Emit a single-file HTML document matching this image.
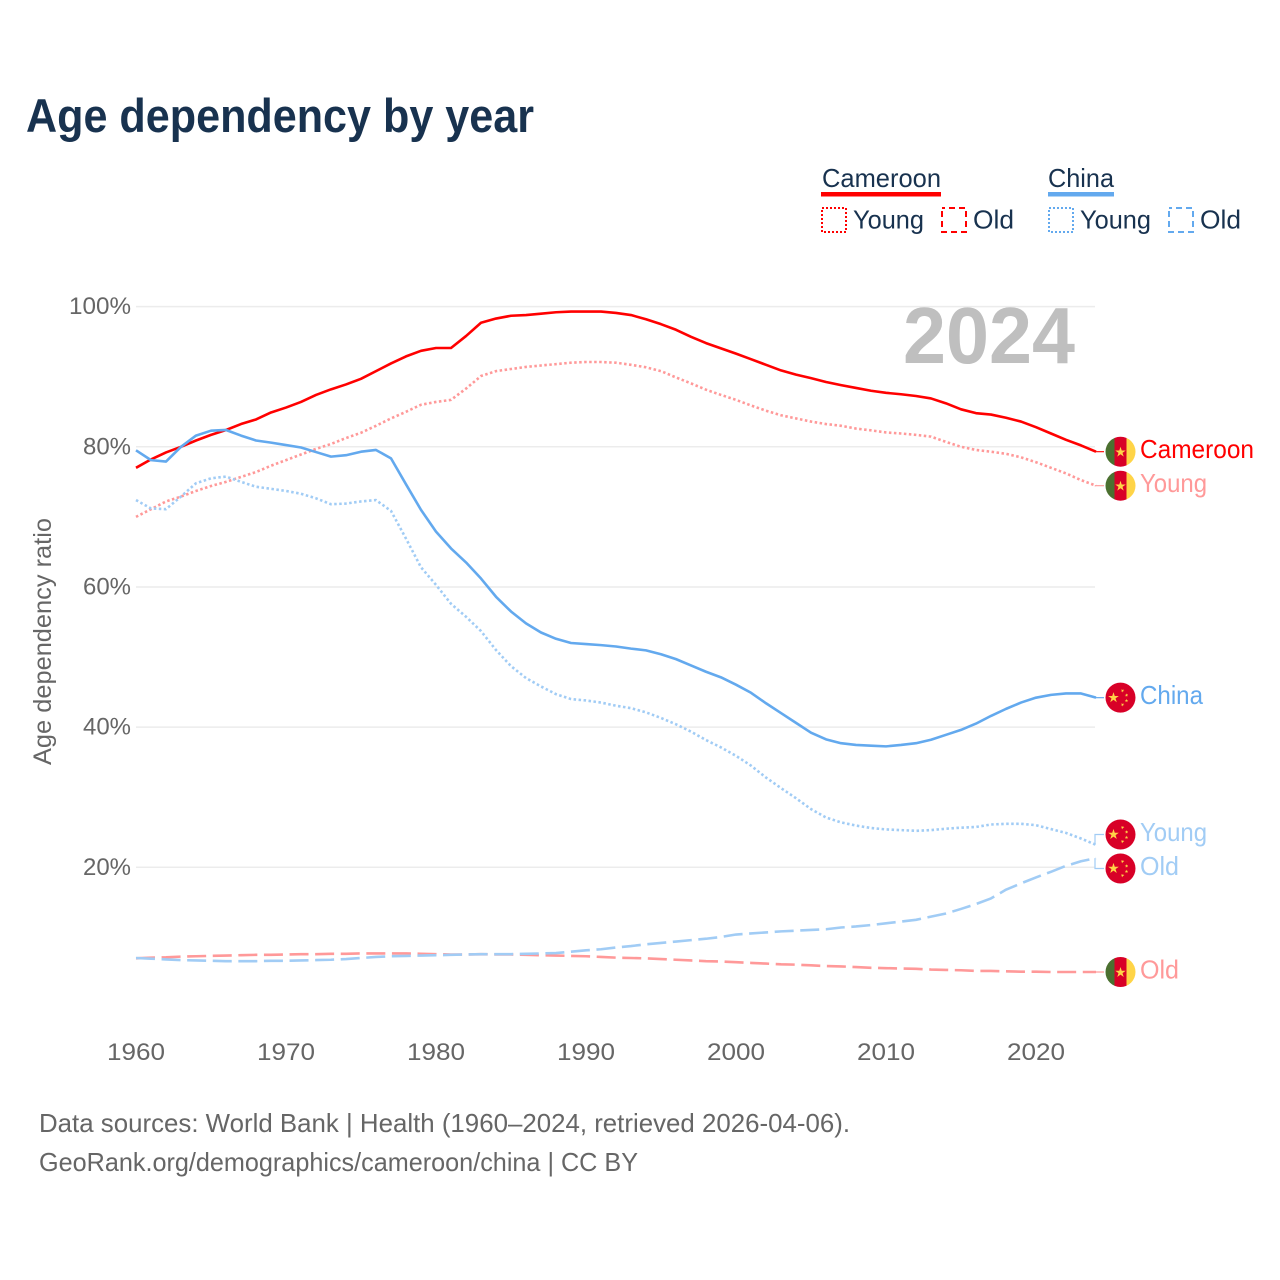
<!DOCTYPE html>
<html lang="en">
<head>
<meta charset="utf-8">
<title>Age dependency by year</title>
<style>
html,body{margin:0;padding:0;background:#fff;}
svg{display:block;}
text{font-family:"Liberation Sans",sans-serif;}
</style>
</head>
<body>
<svg id="chart" width="1280" height="1280" viewBox="0 0 1280 1280" xmlns="http://www.w3.org/2000/svg">
  <rect x="0" y="0" width="1280" height="1280" fill="#ffffff"/>
  <text x="26" y="132" font-size="47" font-weight="700" fill="#18324f" textLength="508" lengthAdjust="spacingAndGlyphs">Age dependency by year</text>

  <g>
    <g>
      <text x="822" y="187" font-size="26" fill="#18324f" textLength="119" lengthAdjust="spacingAndGlyphs">Cameroon</text>
      <rect x="821" y="192" width="120" height="4.5" fill="#ff0000"/>
      <rect x="822" y="208" width="24" height="24" fill="none" stroke="#ff0000" stroke-width="2" stroke-dasharray="2 2"/>
      <text x="853" y="228.5" font-size="26" fill="#18324f" textLength="71" lengthAdjust="spacingAndGlyphs">Young</text>
      <rect x="942" y="208" width="24" height="24" fill="none" stroke="#ff0000" stroke-width="2" stroke-dasharray="6 4" stroke-dashoffset="3"/>
      <text x="973" y="228.5" font-size="26" fill="#18324f" textLength="41" lengthAdjust="spacingAndGlyphs">Old</text>
    </g>
    <g>
      <text x="1048" y="187" font-size="26" fill="#18324f" textLength="66" lengthAdjust="spacingAndGlyphs">China</text>
      <rect x="1048" y="192" width="66" height="4.5" fill="#63a9ee"/>
      <rect x="1049" y="208" width="24" height="24" fill="none" stroke="#63a9ee" stroke-width="2" stroke-dasharray="2 2"/>
      <text x="1080" y="228.5" font-size="26" fill="#18324f" textLength="71" lengthAdjust="spacingAndGlyphs">Young</text>
      <rect x="1169" y="208" width="24" height="24" fill="none" stroke="#63a9ee" stroke-width="2" stroke-dasharray="6 4" stroke-dashoffset="3"/>
      <text x="1200" y="228.5" font-size="26" fill="#18324f" textLength="41" lengthAdjust="spacingAndGlyphs">Old</text>
    </g>
  </g>

  <g id="grid"></g>
  <text x="903" y="363" font-size="80" font-weight="700" fill="#bfbfbf" textLength="172" lengthAdjust="spacingAndGlyphs">2024</text>
  <g id="yticks"></g>
  <g id="xticks"></g>
  <text transform="translate(51,765) rotate(-90)" x="0" y="0" font-size="25" fill="#666666" textLength="247" lengthAdjust="spacingAndGlyphs">Age dependency ratio</text>
  <g id="series"></g>
  <g id="endlabels"></g>

  <g>
    <text x="39" y="1132" font-size="26" fill="#666666" textLength="811" lengthAdjust="spacingAndGlyphs">Data sources: World Bank | Health (1960–2024, retrieved 2026-04-06).</text>
    <text x="39" y="1171" font-size="26" fill="#666666" textLength="599" lengthAdjust="spacingAndGlyphs">GeoRank.org/demographics/cameroon/china | CC BY</text>
  </g>
</svg>
<script>
const firstYear = 1960;
const xTickYears = [1960, 1970, 1980, 1990, 2000, 2010, 2020];
const yTickValues = [20, 40, 60, 80, 100];

const cameroonTotal = [77.0,78.2,79.2,80.0,80.9,81.7,82.4,83.25,83.9,84.9,85.6,86.4,87.4,88.2,88.9,89.7,90.8,91.9,92.9,93.7,94.1,94.1,95.8,97.7,98.3,98.7,98.8,99.0,99.2,99.3,99.3,99.3,99.1,98.8,98.2,97.5,96.7,95.7,94.8,94.05,93.3,92.5,91.7,90.9,90.3,89.8,89.25,88.8,88.4,88.0,87.7,87.5,87.25,86.9,86.2,85.35,84.8,84.6,84.15,83.6,82.8,81.9,81.0,80.2,79.3];
const cameroonYoung = [70.0,71.1,72.2,72.9,73.7,74.4,75.0,75.7,76.4,77.3,78.1,78.9,79.7,80.4,81.25,82.0,83.0,84.05,85.0,86.0,86.4,86.7,88.3,90.1,90.8,91.1,91.4,91.6,91.8,92.0,92.1,92.1,92.0,91.7,91.35,90.8,89.9,89.05,88.15,87.4,86.7,85.9,85.15,84.5,84.05,83.6,83.25,83.0,82.6,82.35,82.05,81.9,81.7,81.45,80.7,80.0,79.55,79.3,79.0,78.5,77.8,77.0,76.2,75.25,74.45];
const cameroonOld = [7.0,7.1,7.15,7.25,7.3,7.35,7.4,7.45,7.5,7.5,7.55,7.6,7.6,7.65,7.65,7.7,7.7,7.7,7.7,7.65,7.6,7.55,7.55,7.6,7.55,7.55,7.5,7.45,7.4,7.35,7.3,7.2,7.1,7.05,7.0,6.9,6.8,6.7,6.6,6.55,6.45,6.35,6.25,6.15,6.1,6.0,5.9,5.85,5.75,5.65,5.6,5.55,5.5,5.4,5.35,5.3,5.2,5.2,5.15,5.1,5.1,5.05,5.05,5.05,5.05];
const chinaTotal = [79.5,78.1,77.9,80.0,81.6,82.3,82.4,81.6,80.9,80.6,80.25,79.9,79.25,78.6,78.8,79.3,79.55,78.35,74.65,71.0,67.9,65.5,63.5,61.2,58.6,56.5,54.8,53.5,52.6,52.0,51.85,51.7,51.5,51.2,50.95,50.4,49.7,48.8,47.9,47.1,46.05,44.9,43.4,42.0,40.6,39.2,38.25,37.7,37.45,37.35,37.25,37.45,37.7,38.2,38.9,39.6,40.5,41.6,42.6,43.5,44.2,44.6,44.8,44.8,44.2];
const chinaYoung = [72.4,71.2,71.1,72.9,74.8,75.5,75.75,75.0,74.3,74.0,73.7,73.3,72.65,71.8,71.9,72.2,72.4,70.85,66.9,62.8,60.3,57.6,55.75,53.7,51.0,48.7,47.0,45.8,44.7,44.0,43.8,43.5,43.05,42.7,42.1,41.3,40.4,39.35,38.15,37.1,35.9,34.5,32.8,31.3,29.85,28.3,27.1,26.4,25.95,25.6,25.4,25.3,25.2,25.3,25.5,25.65,25.75,26.1,26.2,26.2,26.0,25.45,24.9,24.1,23.2];
const chinaOld = [7.05,6.95,6.85,6.75,6.7,6.65,6.6,6.6,6.6,6.65,6.65,6.7,6.75,6.8,6.9,7.05,7.2,7.3,7.35,7.4,7.45,7.5,7.55,7.6,7.6,7.6,7.65,7.7,7.75,7.95,8.15,8.3,8.55,8.75,9.0,9.2,9.4,9.6,9.8,10.05,10.4,10.55,10.7,10.85,10.95,11.05,11.15,11.4,11.55,11.75,12.0,12.25,12.5,12.95,13.4,14.05,14.75,15.55,16.8,17.7,18.55,19.35,20.2,20.85,21.3];

const NS = 'http://www.w3.org/2000/svg';
const xScale = function (year) { return 136 + (year - 1960) * 15; };
const yScale = function (v) { return 1007.4 - v * 7.0075; };

function make(tag, parent, attrs, content) {
  const el = document.createElementNS(NS, tag);
  for (const k in attrs) el.setAttribute(k, attrs[k]);
  if (content !== undefined) el.textContent = content;
  parent.appendChild(el);
  return el;
}

/* gridlines and y ticks */
const gridG = document.getElementById('grid');
const yTickG = document.getElementById('yticks');
yTickValues.forEach(function (v) {
  const line = make('line', gridG, {x1: 136, x2: 1095, y1: yScale(v), y2: yScale(v), stroke: '#ececec', 'stroke-width': 1.5});
  
  
  const label = v + '%';
  const w = label.length === 4 ? 62 : 48;
  const t = make('text', yTickG, {x: 131 - w, y: yScale(v) + 7.5, 'font-size': 24, fill: '#666666', textLength: w, lengthAdjust: 'spacingAndGlyphs'}, label);
  
  
});

/* x ticks */
const xTickG = document.getElementById('xticks');
xTickYears.forEach(function (yr) {
  const t = make('text', xTickG, {x: xScale(yr) - 29, y: 1060, 'font-size': 24, fill: '#666666', textLength: 58, lengthAdjust: 'spacingAndGlyphs'}, String(yr));
  
  
});

/* series */
const RED = '#ff0000', RED_L = '#ff9999', BLUE = '#63a9ee', BLUE_L = '#a1ccf5';
const seriesList = [
  {id: 'cameroon-old', values: cameroonOld, color: RED_L, dash: '19 6.6', label: 'Old', flag: 'cm', labelWidth: 39},
  {id: 'cameroon-young', values: cameroonYoung, color: RED_L, dash: '2.5 2.5', label: 'Young', flag: 'cm', labelWidth: 67},
  {id: 'china-old', values: chinaOld, color: BLUE_L, dash: '19 6.6', label: 'Old', flag: 'cn', labelWidth: 39},
  {id: 'china-young', values: chinaYoung, color: BLUE_L, dash: '2.5 2.5', label: 'Young', flag: 'cn', labelWidth: 67},
  {id: 'cameroon-total', values: cameroonTotal, color: RED, dash: '', label: 'Cameroon', flag: 'cm', labelWidth: 114},
  {id: 'china-total', values: chinaTotal, color: BLUE, dash: '', label: 'China', flag: 'cn', labelWidth: 63}
];
const seriesG = document.getElementById('series');
seriesList.forEach(function (s) {
  const d = s.values.map(function (v, i) {
    return (i ? 'L' : 'M') + xScale(firstYear + i).toFixed(2) + ' ' + yScale(v).toFixed(2);
  }).join(' ');
  const attrs = {d: d, fill: 'none', stroke: s.color, 'stroke-width': 2.6, 'stroke-linejoin': 'round'};
  if (s.dash) attrs['stroke-dasharray'] = s.dash;
  const p = make('path', seriesG, attrs);
  
  
});

/* end labels: spread apart so neighbouring labels never collide */
const MIN_GAP = 34;
const placed = seriesList.map(function (s) {
  const y = yScale(s.values[s.values.length - 1]);
  return {s: s, endY: y, labelY: y};
}).sort(function (a, b) { return a.endY - b.endY; });
for (let i = 1; i < placed.length; i++) {
  const gap = placed[i].labelY - placed[i - 1].labelY;
  if (gap < MIN_GAP) {
    const push = (MIN_GAP - gap) / 2;
    placed[i - 1].labelY -= push;
    placed[i].labelY += push;
  }
}

function starPoints(cx, cy, r, rot) {
  const pts = [];
  for (let i = 0; i < 10; i++) {
    const rad = i % 2 ? r * 0.382 : r;
    const a = -Math.PI / 2 + rot + i * Math.PI / 5;
    pts.push((cx + rad * Math.cos(a)).toFixed(2) + ',' + (cy + rad * Math.sin(a)).toFixed(2));
  }
  return pts.join(' ');
}

const endG = document.getElementById('endlabels');
const defs = make('defs', endG, {});
placed.forEach(function (p, idx) {
  const s = p.s;
  const ly = p.labelY;
  const g = make('g', endG, {});
  
  

  const conn = make('path', g, {d: 'M1095 ' + p.endY.toFixed(2) + ' L1095 ' + ly.toFixed(2) + ' L1104 ' + ly.toFixed(2), fill: 'none', stroke: s.color, 'stroke-width': 1.2});
  
  

  const cid = 'clip-' + idx;
  const clip = make('clipPath', defs, {id: cid});
  make('circle', clip, {cx: 1120.5, cy: ly, r: 15});

  const flag = make('g', g, {'clip-path': 'url(#' + cid + ')'});
  
  
  if (s.flag === 'cm') {
    make('rect', flag, {x: 1105, y: ly - 16, width: 9.5, height: 32, fill: '#4b7030'});
    make('rect', flag, {x: 1114.5, y: ly - 16, width: 12, height: 32, fill: '#d80027'});
    make('rect', flag, {x: 1126.5, y: ly - 16, width: 10, height: 32, fill: '#ffd447'});
    make('polygon', flag, {points: starPoints(1120.5, ly + 0.5, 5.5, 0), fill: '#ffd447'});
  } else {
    make('rect', flag, {x: 1105, y: ly - 16, width: 32, height: 32, fill: '#d80027'});
    make('polygon', flag, {points: starPoints(1113.5, ly, 5.6, 0), fill: '#ffd447'});
    make('polygon', flag, {points: starPoints(1122.5, ly - 7, 1.9, 0.5), fill: '#ffd447'});
    make('polygon', flag, {points: starPoints(1126.5, ly - 2.5, 1.9, 1), fill: '#ffd447'});
    make('polygon', flag, {points: starPoints(1126.5, ly + 3, 1.9, 0), fill: '#ffd447'});
    make('polygon', flag, {points: starPoints(1122.5, ly + 7, 1.9, 0.5), fill: '#ffd447'});
  }

  const t = make('text', g, {x: 1140, y: ly + 6.5, 'font-size': 26, fill: s.color, textLength: s.labelWidth, lengthAdjust: 'spacingAndGlyphs'}, s.label);
  
  
});
</script>
</body>
</html>
